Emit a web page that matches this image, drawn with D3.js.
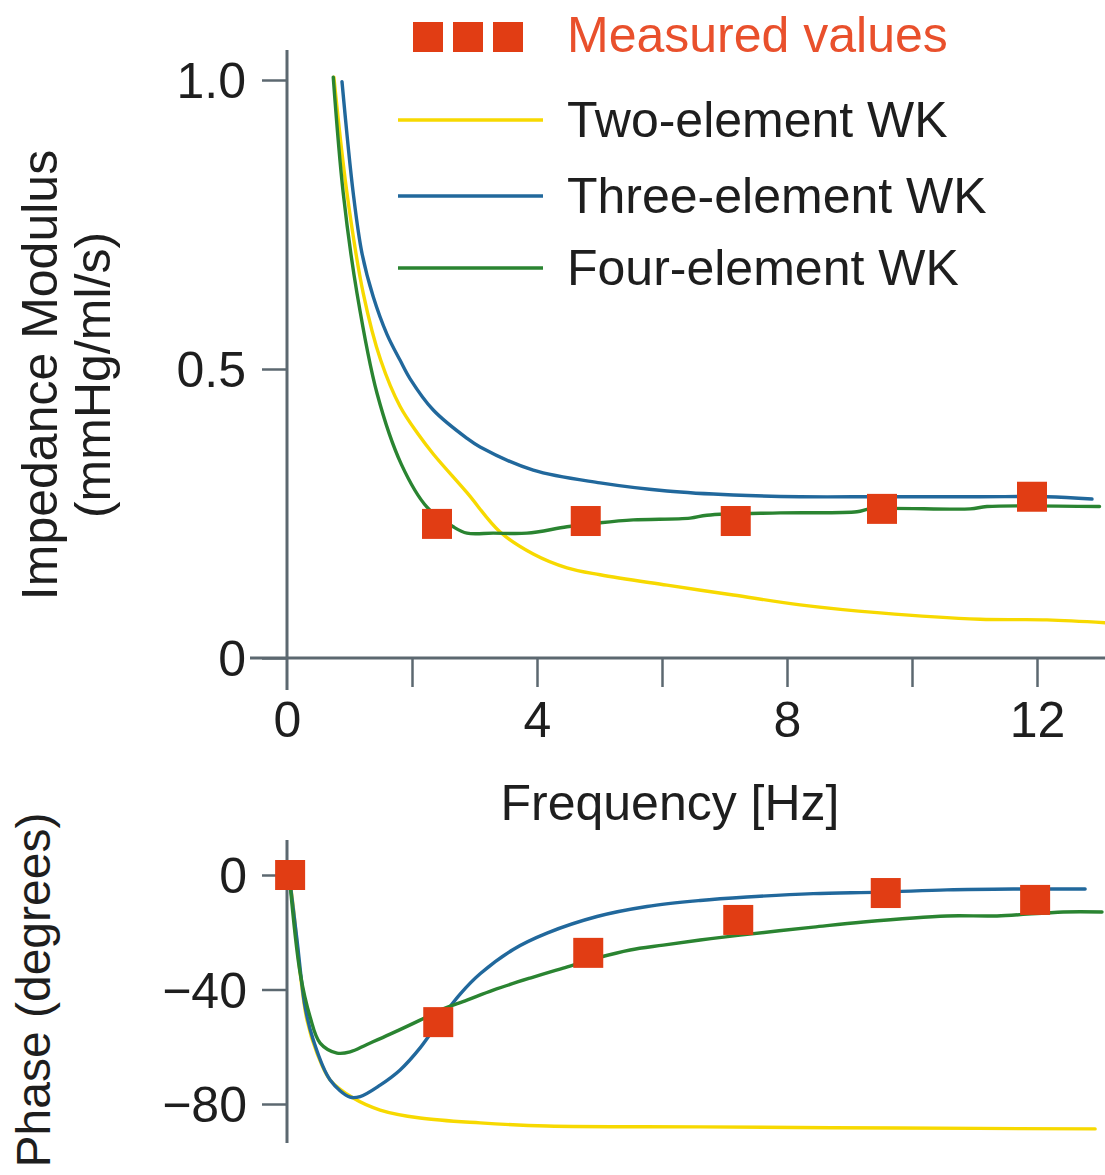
<!DOCTYPE html>
<html>
<head>
<meta charset="utf-8">
<script src="https://cdn.jsdelivr.net/npm/d3@7"></script>
<style>
  html, body { margin: 0; padding: 0; background: #ffffff; }
  svg { display: block; }
  text { font-family: "Liberation Sans", Arial, Helvetica, sans-serif; fill: #1e1e1e; }
</style>
</head>
<body>
<svg id="chart" width="1105" height="1175"></svg>
<script>
// ---- Axis ticks ----
const freqTicks = [0, 2, 4, 6, 8, 10, 12];
const freqLabelled = [0, 4, 8, 12];
const modulusTicks = [0, 0.5, 1.0];
const modulusTickLabels = ["0", "0.5", "1.0"];
const phaseTicks = [0, -40, -80];
const phaseTickLabels = ["0", "\u221240", "\u221280"];

// ---- Series names ----
const seriesNames = ["Measured values", "Two-element WK", "Three-element WK", "Four-element WK"];

// ---- Measured values ----
const measuredModFreq = [2.4, 4.78, 7.18, 9.52, 11.92];
const measuredModulus = [0.232, 0.237, 0.237, 0.258, 0.279];
const measuredPhaseFreq = [0.05, 2.42, 4.82, 7.22, 9.58, 11.97];
const measuredPhase = [0, -51.4, -27.2, -15.7, -6.3, -8.7];

// ---- Impedance modulus (mmHg/ml/s) ----
const twoModFreq = [0.75, 0.96, 1.22, 1.5, 1.81, 2.1, 2.34, 2.88, 3.41, 3.94, 4.48, 5.01, 6.08, 7.14, 8.21, 9.49, 11.09, 12.16, 13.09];
const twoModulus = [1.005, 0.804, 0.631, 0.515, 0.435, 0.387, 0.353, 0.286, 0.218, 0.18, 0.156, 0.144, 0.126, 0.109, 0.092, 0.078, 0.067, 0.066, 0.061];

const threeModFreq = [0.88, 1.06, 1.2, 1.38, 1.6, 1.81, 1.97, 2.34, 2.88, 3.09, 3.94, 5.01, 6.08, 7.14, 8.21, 9.49, 11.09, 12.16, 12.88];
const threeModulus = [0.997, 0.804, 0.70, 0.625, 0.56, 0.515, 0.483, 0.429, 0.38, 0.365, 0.325, 0.303, 0.289, 0.282, 0.279, 0.279, 0.279, 0.279, 0.275];

const fourModFreq = [0.74, 0.90, 1.12, 1.44, 1.83, 2.24, 2.66, 2.88, 3.3, 3.84, 4.48, 5.01, 5.54, 6.45, 6.72, 7.89, 9.12, 9.33, 10.93, 11.2, 13.0];
const fourModulus = [1.005, 0.804, 0.631, 0.458, 0.335, 0.261, 0.227, 0.216, 0.216, 0.216, 0.227, 0.234, 0.239, 0.242, 0.247, 0.251, 0.253, 0.258, 0.258, 0.262, 0.262];

// ---- Phase (degrees) ----
const twoPhaseFreq = [0.04, 0.1, 0.21, 0.32, 0.48, 0.69, 1.06, 1.49, 2.13, 3.09, 4.16, 6.61, 9.76, 12.93];
const twoPhase = [-1, -11.2, -34.2, -50.7, -62.2, -71.6, -77.9, -82.1, -84.9, -86.6, -87.7, -88.0, -88.4, -88.7];

const threePhaseFreq = [0.04, 0.16, 0.29, 0.42, 0.69, 1.01, 1.17, 1.49, 1.81, 2.13, 2.45, 2.77, 3.09, 3.62, 4.16, 4.96, 5.76, 6.61, 7.36, 8.42, 9.49, 10.56, 11.62, 12.77];
const threePhase = [-1, -22.7, -46.1, -57.6, -71.6, -77.6, -77.4, -73.4, -68.1, -60.4, -50.6, -41.6, -34.5, -26.0, -20.3, -14.5, -11.0, -8.9, -7.7, -6.5, -6.0, -5.2, -4.9, -4.9];

const fourPhaseFreq = [0.04, 0.21, 0.37, 0.53, 0.8, 1.01, 1.28, 1.65, 2.13, 2.45, 2.88, 3.3, 3.89, 4.42, 4.96, 5.49, 6.02, 6.61, 7.25, 8.42, 9.22, 10.56, 11.36, 12.42, 13.04];
const fourPhase = [-1, -34.2, -49.6, -58.7, -62.2, -61.8, -59.2, -55.6, -50.7, -47.2, -43.7, -40.2, -36.0, -32.5, -29.0, -26.2, -24.5, -22.7, -21.0, -18.2, -16.4, -14.3, -14.3, -12.9, -12.9];

// ---- Styling ----
const COLORS = { measured: "#e13d14", measuredText: "#e9502c", two: "#f7d900", three: "#21689c", four: "#2a8431", axis: "#5c6870" };
const FONT = 50;
const LINE_W = 3.4;

const svg = d3.select("#chart");

// Shared frequency scale, two value scales
const x = d3.scaleLinear().domain([0, 12]).range([287, 1037]);
const yMod = d3.scaleLinear().domain([0, 1]).range([658, 80]);
const yPh = d3.scaleLinear().domain([-80, 0]).range([1104, 875]);

const zip = (xs, ys) => xs.map((v, i) => [v, ys[i]]);
const smooth = d3.curveCatmullRom.alpha(0.5);

// ---------- Upper panel: impedance modulus ----------
const modPanel = svg.append("g");

// x axis (ticks every 2 Hz, labels every 4 Hz)
const xAxis = d3.axisBottom(x)
  .tickValues(freqTicks)
  .tickSize(29)
  .tickPadding(14)
  .tickFormat(d => freqLabelled.includes(d) ? d3.format("d")(d) : "");
const gx = modPanel.append("g").attr("transform", `translate(0,${yMod(0)})`).call(xAxis);
gx.select(".domain").remove();
gx.selectAll(".tick line").attr("stroke", COLORS.axis).attr("stroke-width", 2.5);
gx.selectAll(".tick text").attr("font-size", FONT).attr("fill", "#1e1e1e")
  .attr("font-family", "Liberation Sans, Arial, sans-serif");
gx.selectAll(".tick").filter(d => d === 0).select("line").remove();
modPanel.append("line").attr("x1", 250).attr("x2", 1105).attr("y1", yMod(0)).attr("y2", yMod(0))
  .attr("stroke", COLORS.axis).attr("stroke-width", 3);

// y axis
const yModAxis = d3.axisLeft(yMod)
  .tickValues(modulusTicks)
  .tickSize(25)
  .tickPadding(16)
  .tickFormat((d, i) => modulusTickLabels[i]);
const gy = modPanel.append("g").attr("transform", `translate(${x(0)},0)`).call(yModAxis);
gy.select(".domain").remove();
gy.selectAll(".tick line").attr("stroke", COLORS.axis).attr("stroke-width", 2.5);
gy.selectAll(".tick text").attr("font-size", FONT).attr("fill", "#1e1e1e").attr("dy", "0.35em")
  .attr("font-family", "Liberation Sans, Arial, sans-serif");
modPanel.append("line").attr("x1", x(0)).attr("x2", x(0)).attr("y1", 50).attr("y2", 690)
  .attr("stroke", COLORS.axis).attr("stroke-width", 3);

// axis titles
modPanel.append("text").attr("transform", "translate(57,375) rotate(-90)")
  .attr("text-anchor", "middle").attr("font-size", FONT).text("Impedance Modulus");
modPanel.append("text").attr("transform", "translate(110,375) rotate(-90)")
  .attr("text-anchor", "middle").attr("font-size", FONT).text("(mmHg/ml/s)");
modPanel.append("text").attr("x", 670).attr("y", 820)
  .attr("text-anchor", "middle").attr("font-size", FONT).text("Frequency [Hz]");

// curves
const lineMod = d3.line().x(d => x(d[0])).y(d => yMod(d[1])).curve(smooth);
[[twoModFreq, twoModulus, COLORS.two], [threeModFreq, threeModulus, COLORS.three], [fourModFreq, fourModulus, COLORS.four]]
  .forEach(([fx, fy, c]) => {
    modPanel.append("path").datum(zip(fx, fy)).attr("d", lineMod)
      .attr("fill", "none").attr("stroke", c).attr("stroke-width", LINE_W)
      .attr("stroke-linejoin", "round").attr("stroke-linecap", "round");
  });

// measured squares
const SQ = 30;
modPanel.selectAll("rect.meas").data(zip(measuredModFreq, measuredModulus)).join("rect")
  .attr("class", "meas")
  .attr("x", d => x(d[0]) - SQ / 2).attr("y", d => yMod(d[1]) - SQ / 2)
  .attr("width", SQ).attr("height", SQ).attr("fill", COLORS.measured);

// ---------- Lower panel: phase ----------
const phPanel = svg.append("g");
const yPhAxis = d3.axisLeft(yPh)
  .tickValues(phaseTicks)
  .tickSize(25)
  .tickPadding(15)
  .tickFormat((d, i) => phaseTickLabels[i]);
const gp = phPanel.append("g").attr("transform", `translate(${x(0)},0)`).call(yPhAxis);
gp.select(".domain").remove();
gp.selectAll(".tick line").attr("stroke", COLORS.axis).attr("stroke-width", 2.5);
gp.selectAll(".tick text").attr("font-size", FONT).attr("fill", "#1e1e1e").attr("dy", "0.35em")
  .attr("font-family", "Liberation Sans, Arial, sans-serif");
phPanel.append("line").attr("x1", x(0)).attr("x2", x(0)).attr("y1", 840).attr("y2", 1143)
  .attr("stroke", COLORS.axis).attr("stroke-width", 3);

phPanel.append("text").attr("transform", "translate(50,990) rotate(-90)")
  .attr("text-anchor", "middle").attr("font-size", 48).text("Phase (degrees)");

const linePh = d3.line().x(d => x(d[0])).y(d => yPh(d[1])).curve(smooth);
[[twoPhaseFreq, twoPhase, COLORS.two], [threePhaseFreq, threePhase, COLORS.three], [fourPhaseFreq, fourPhase, COLORS.four]]
  .forEach(([fx, fy, c]) => {
    phPanel.append("path").datum(zip(fx, fy)).attr("d", linePh)
      .attr("fill", "none").attr("stroke", c).attr("stroke-width", LINE_W)
      .attr("stroke-linejoin", "round").attr("stroke-linecap", "round");
  });

phPanel.selectAll("rect.meas").data(zip(measuredPhaseFreq, measuredPhase)).join("rect")
  .attr("class", "meas")
  .attr("x", d => x(d[0]) - SQ / 2).attr("y", d => yPh(d[1]) - SQ / 2)
  .attr("width", SQ).attr("height", SQ).attr("fill", COLORS.measured);

// ---------- Legend ----------
const legend = svg.append("g");
[413, 453, 493].forEach(px => {
  legend.append("rect").attr("x", px).attr("y", 22).attr("width", SQ).attr("height", SQ)
    .attr("fill", COLORS.measured);
});
legend.append("text").attr("x", 567).attr("y", 52).attr("font-size", FONT)
  .style("fill", COLORS.measuredText).text(seriesNames[0]);

const legendRows = [
  { name: seriesNames[1], color: COLORS.two, y: 120 },
  { name: seriesNames[2], color: COLORS.three, y: 196 },
  { name: seriesNames[3], color: COLORS.four, y: 268 }
];
legendRows.forEach(r => {
  legend.append("line").attr("x1", 398).attr("x2", 543).attr("y1", r.y).attr("y2", r.y)
    .attr("stroke", r.color).attr("stroke-width", LINE_W);
  legend.append("text").attr("x", 567).attr("y", r.y + 17).attr("font-size", FONT).text(r.name);
});
</script>
</body>
</html>
